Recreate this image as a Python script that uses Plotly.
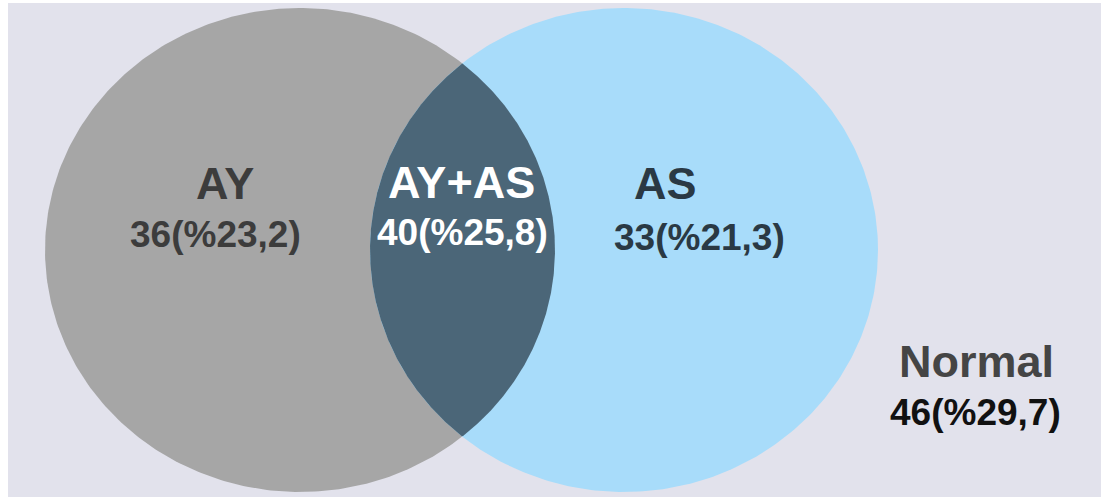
import numpy as np
import plotly.graph_objects as go

# ---- data ----
groups = ["AY", "AY+AS", "AS", "Normal"]
counts = [36, 40, 33, 46]
percents = ["23,2", "25,8", "21,3", "29,7"]

# ---- geometry (pixels) ----
W, H = 1101, 497
left_c, right_c, cy = (300, 250), (624, 250), 250
rx_l, rx_r, ry = 255, 254, 242

def ellipse(cx, cy, rx, ry, n=400):
    t = np.linspace(0, 2 * np.pi, n)
    return cx + rx * np.cos(t), cy + ry * np.sin(t)

def inside(x, y, cx, cy, rx, ry):
    return ((x - cx) / rx) ** 2 + ((y - cy) / ry) ** 2 <= 1.0

fig = go.Figure()

# background panel
fig.add_shape(type="rect", x0=8, x1=W, y0=3, y1=H, xref="x", yref="y",
              fillcolor="#e2e2ec", line=dict(width=0), layer="below")

lx, ly = ellipse(left_c[0], cy, rx_l, ry)
rx_, ry_ = ellipse(right_c[0], cy, rx_r, ry)
fig.add_trace(go.Scatter(x=lx, y=ly, fill="toself", fillcolor="#a6a6a6",
                         mode="lines", line=dict(width=0), hoverinfo="skip"))
fig.add_trace(go.Scatter(x=rx_, y=ry_, fill="toself", fillcolor="#a8dcfa",
                         mode="lines", line=dict(width=0), hoverinfo="skip"))

# intersection lens
t = np.linspace(0, 2 * np.pi, 2000)
xl = left_c[0] + rx_l * np.cos(t); yl = cy + ry * np.sin(t)
xr = right_c[0] + rx_r * np.cos(t); yr = cy + ry * np.sin(t)
mL = inside(xl, yl, right_c[0], cy, rx_r, ry)
mR = inside(xr, yr, left_c[0], cy, rx_l, ry)
pl = sorted(zip(xl[mL], yl[mL]), key=lambda p: p[1])          # left ellipse right arc, top->bottom
pr = sorted(zip(xr[mR], yr[mR]), key=lambda p: -p[1])         # right ellipse left arc, bottom->top
pts = pl + pr
fig.add_trace(go.Scatter(x=[p[0] for p in pts] + [pts[0][0]],
                         y=[p[1] for p in pts] + [pts[0][1]],
                         fill="toself", fillcolor="#4b6678", mode="lines",
                         line=dict(width=0), hoverinfo="skip"))

FONT = "Liberation Sans, Arial, sans-serif"
label_pos = [(225, 183, 461, 183), ]
title_xy = [(225, 183), (461, 182), (665, 183), (976, 361)]
value_xy = [(215, 234), (462, 232), (699, 237), (975, 412)]
title_col = ["#3c3c3c", "#ffffff", "#2a3944", "#454545"]
value_col = ["#3c3c3c", "#ffffff", "#2a3944", "#111111"]

for g, c, p, (tx, ty), (vx, vy), tc, vc in zip(groups, counts, percents, title_xy,
                                              value_xy, title_col, value_col):
    fig.add_annotation(x=tx, y=ty, text=f"<b>{g}</b>", showarrow=False,
                       xanchor="center", yanchor="middle",
                       font=dict(family=FONT, size=45, color=tc))
    fig.add_annotation(x=vx, y=vy, text=f"<b>{c}(%{p})</b>", showarrow=False,
                       xanchor="center", yanchor="middle",
                       font=dict(family=FONT, size=37, color=vc))

fig.update_layout(
    width=W, height=H, margin=dict(l=0, r=0, t=0, b=0),
    paper_bgcolor="#ffffff", plot_bgcolor="rgba(0,0,0,0)", showlegend=False,
    xaxis=dict(range=[0, W], visible=False, fixedrange=True),
    yaxis=dict(range=[H, 0], visible=False, fixedrange=True),
)
fig.write_html("out.html", config={"displayModeBar": False})
